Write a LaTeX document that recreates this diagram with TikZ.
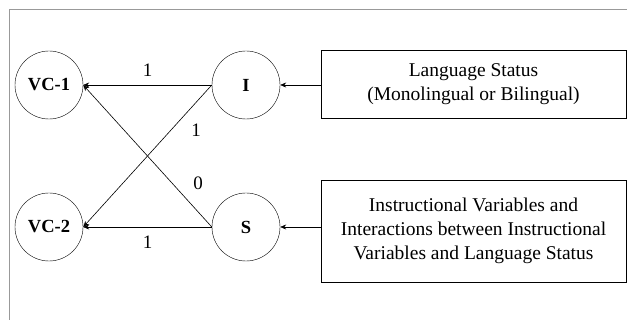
\documentclass[tikz,border=0pt]{standalone}
\usepackage{fontspec}
\setmainfont{Liberation Serif}
\usetikzlibrary{arrows.meta}

\begin{document}
\begin{tikzpicture}[x=1pt,y=-1pt,font=\fontsize{19}{22}\selectfont,
		var/.style={draw,circle,minimum size=68pt,inner sep=0pt,font=\fontsize{18.5}{22}\selectfont\bfseries},
		factor/.style={draw,minimum width=305pt,inner sep=2pt,align=center,font=\fontsize{19.5}{24}\selectfont},
		effect/.style={-{Stealth[length=6pt,width=5pt]},line width=0.6pt}]
		\useasboundingbox (0,0) rectangle (627,320);
		\draw[gray!80,line width=1pt] (9.5,9.5) rectangle (660,360);
		% outcome and predictor nodes
		\node[var] (vc1) at (49,85) {VC-1};
		\node[var] (vc2) at (49,227) {VC-2};
		\node[var] (I) at (246,85) {I};
		\node[var] (S) at (246,227) {S};
		\node[factor,minimum height=68pt] (lang) at (473.5,84) {Language Status\\(Monolingual or Bilingual)};
		\node[factor,minimum height=102pt] (instr) at (473.5,231) {Instructional Variables and\\Interactions between Instructional\\Variables and Language Status};
		% paths
		\draw[effect] (I.west) -- node[above=5pt]{1} (vc1.east);
		\draw[effect] (S.west) -- node[below=5pt]{1} (vc2.east);
		\draw[effect] (I.west) -- (vc2.east);
		\draw[effect] (S.west) -- (vc1.east);
		\node (w1) at (196,130) {1};
		\node (w0) at (198,183) {0};
		\draw[effect] (lang.west |- I.east) -- (I.east);
		\draw[effect] (instr.west |- S.east) -- (S.east);
	\end{tikzpicture}
\end{document}
